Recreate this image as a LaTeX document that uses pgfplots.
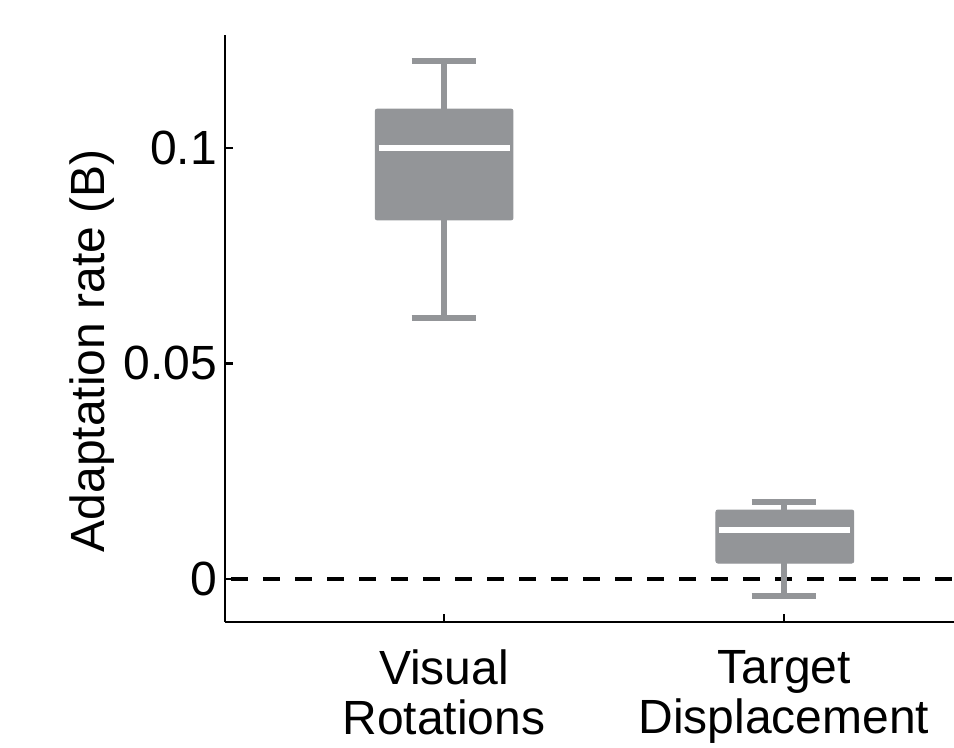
\documentclass[border=0pt]{standalone}
\usepackage{fontspec}
\setmainfont{Liberation Sans}
\usepackage{pgfplots}
\pgfplotsset{compat=1.18}
\definecolor{boxgray}{HTML}{939598}
\begin{document}
\begin{tikzpicture}
\begin{axis}[
  scale only axis, width=729bp, height=587bp,
  xmin=0.356, xmax=2.5, ymin=-0.00998, ymax=0.1262,
  axis x line=bottom, axis y line=left,
  axis line style={-, line width=2.5bp, black},
  xtick={1,2}, xticklabels={{Visual\\Rotations},{Target\\Displacement}},
  ytick={0,0.05,0.1}, yticklabels={0,0.05,0.1},
  tick align=inside, major tick length=8bp,
  tick style={line width=2.5bp, black},
  ticklabel style={font=\fontsize{48bp}{50bp}\selectfont, inner sep=0pt},
  xticklabel style={align=center, yshift=-28bp},
  yticklabel style={xshift=-8bp},
  ylabel={Adaptation rate (B)},
  ylabel style={font=\fontsize{48bp}{50bp}\selectfont, inner sep=0pt,
    at={(axis description cs:-0.2126,0.462)}, anchor=north, rotate=0},
  clip=false,
]
% zero reference line
\addplot[black, line width=3.5bp, dash pattern=on 17bp off 15bp] coordinates {(0.375,0) (2.5,0)};
% Visual Rotations: whiskers, box, median
\addplot[boxgray, line width=6.5bp] coordinates {(1,0.0606) (1,0.1202)};
\addplot[boxgray, line width=6.5bp] coordinates {(0.905,0.1202) (1.095,0.1202)};
\addplot[boxgray, line width=6.5bp] coordinates {(0.905,0.0606) (1.095,0.0606)};
\addplot[draw=boxgray, fill=boxgray, line width=1bp, rounded corners=2bp]
  coordinates {(0.798,0.0833) (1.203,0.0833) (1.203,0.1090) (0.798,0.1090)} -- cycle;
\addplot[white, line width=5.5bp] coordinates {(0.808,0.1000) (1.193,0.1000)};
% Target Displacement
\addplot[boxgray, line width=6.5bp] coordinates {(2,-0.0039) (2,0.0179)};
\addplot[boxgray, line width=6.5bp] coordinates {(1.905,0.0179) (2.095,0.0179)};
\addplot[boxgray, line width=6.5bp] coordinates {(1.905,-0.0039) (2.095,-0.0039)};
\addplot[draw=boxgray, fill=boxgray, line width=1bp, rounded corners=2bp]
  coordinates {(1.8,0.0037) (2.205,0.0037) (2.205,0.0160) (1.8,0.0160)} -- cycle;
\addplot[white, line width=5.5bp] coordinates {(1.81,0.0114) (2.195,0.0114)};
\end{axis}
\pgfresetboundingbox
\path (-225bp,-126bp) rectangle (729bp,622bp);
\end{tikzpicture}
\end{document}
